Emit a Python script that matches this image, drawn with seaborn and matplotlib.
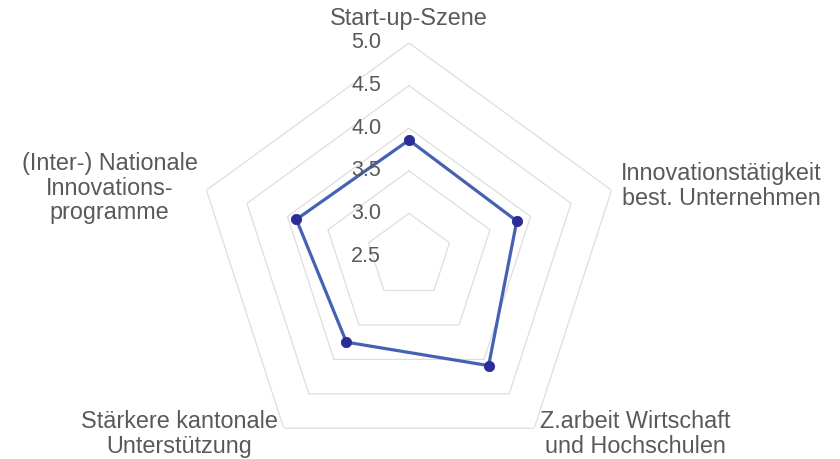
import numpy as np
import seaborn as sns
import matplotlib.pyplot as plt

categories = [
    "Start-up-Szene",
    "Innovationstätigkeit\nbest. Unternehmen",
    "Z.arbeit Wirtschaft\nund Hochschulen",
    "Stärkere kantonale\nUnterstützung",
    "(Inter-) Nationale\nInnovations-\nprogramme",
]
values = [3.86, 3.83, 4.09, 3.75, 3.89]
ring_levels = [3.0, 3.5, 4.0, 4.5, 5.0]
tick_labels = ["2.5", "3.0", "3.5", "4.0", "4.5", "5.0"]
tick_values = [2.5, 3.0, 3.5, 4.0, 4.5, 5.0]

sns.set_theme(style="white")
plt.rcParams['font.family'] = ['Liberation Sans', 'DejaVu Sans']

text_color = "#595959"
line_color = "#4561B4"
dot_color = "#2B2C95"
grid_color = "#dedede"

fig = plt.figure(figsize=(8.4, 4.59), dpi=100)
ax = fig.add_axes([196 / 840, -10 / 459, 426 / 840, 426 / 459], projection="polar")
ax.set_theta_zero_location("N")
ax.set_theta_direction(-1)
ax.set_ylim(2.5, 5.0)
ax.grid(False)
ax.spines["polar"].set_visible(False)
ax.set_xticks([])
ax.set_yticks([])
ax.patch.set_alpha(0)

n = len(categories)
angles = np.linspace(0, 2 * np.pi, n, endpoint=False)
closed_angles = np.append(angles, angles[0] + 2 * np.pi)

# pentagon grid
for lvl in ring_levels:
    ax.plot(closed_angles, [lvl] * (n + 1), color=grid_color, lw=0.9, zorder=1)

# data
closed_vals = values + values[:1]
sns.lineplot(x=closed_angles, y=closed_vals, sort=False, estimator=None, ax=ax,
             color=line_color, lw=2.3, zorder=2)
sns.scatterplot(x=angles, y=values, ax=ax, s=55, color=dot_color,
                edgecolor=dot_color, zorder=3)
ax.set_xlabel("")
ax.set_ylabel("")
ax.set_ylim(2.5, 5.0)

# radial tick labels along the top axis
for v, t in zip(tick_values, tick_labels):
    ax.annotate(t, xy=(0, v), xytext=(-20, 0), textcoords="offset points",
                ha="right", va="center", fontsize=15.5, color=text_color,
                annotation_clip=False)

# category labels
label_opts = [
    dict(xytext=(0, 9.5), ha="center", va="bottom"),
    dict(xytext=(6.5, 3), ha="left", va="center"),
    dict(xytext=(4.5, -4), ha="left", va="center"),
    dict(xytext=(-4.5, -4), ha="right", va="center"),
    dict(xytext=(-6.5, 1.5), ha="right", va="center"),
]
for ang, cat, opt in zip(angles, categories, label_opts):
    ax.annotate(cat, xy=(ang, 5.0), textcoords="offset points",
                multialignment="center", fontsize=16.8, color=text_color,
                annotation_clip=False, linespacing=1.1, **opt)

plt.savefig("out.png", dpi=100)
plt.close()
